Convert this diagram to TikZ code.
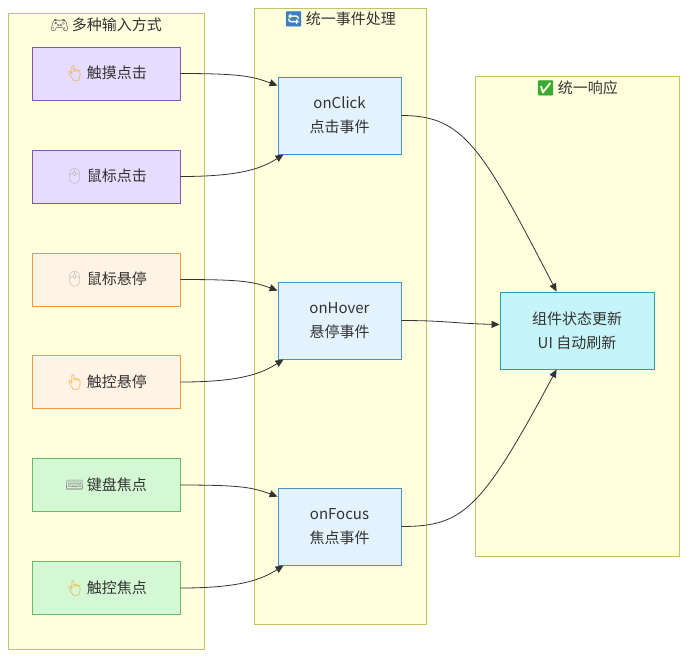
\documentclass[tikz,border=0pt]{standalone}
\usepackage{fontspec}
\setmainfont{Noto Sans CJK SC}
\newfontfamily\emoji{Noto Emoji}
\usetikzlibrary{arrows.meta,calc}
\definecolor{clfill}{HTML}{FFFFDE}
\definecolor{cldraw}{HTML}{C4C466}
\definecolor{pufill}{HTML}{E6DCFF}
\definecolor{pudraw}{HTML}{7E57C2}
\definecolor{orfill}{HTML}{FFF3E5}
\definecolor{ordraw}{HTML}{F29A38}
\definecolor{grfill}{HTML}{D4F8D4}
\definecolor{grdraw}{HTML}{66BB6A}
\definecolor{blfill}{HTML}{E3F2FD}
\definecolor{bldraw}{HTML}{4A90D9}
\definecolor{cyfill}{HTML}{C5F5F8}
\definecolor{cydraw}{HTML}{2A9DB0}
\definecolor{txt}{HTML}{333333}
\definecolor{handc}{HTML}{F0A830}
\definecolor{mousec}{HTML}{B8B8B8}
\definecolor{keyc}{HTML}{909090}
\definecolor{padc}{HTML}{444444}
\definecolor{syncc}{HTML}{3A7FC0}
\definecolor{okc}{HTML}{3BAA35}
\begin{document}
\begin{tikzpicture}[x=1pt,y=-1pt,
  font=\fontsize{15}{24}\selectfont, text=txt,
  cluster/.style={draw=cldraw,fill=clfill,line width=0.9pt},
  inbox/.style={draw=#1draw,fill=#1fill,line width=0.9pt,minimum width=148pt,minimum height=53pt,inner sep=0pt},
  evbox/.style={draw=bldraw,fill=blfill,line width=0.9pt,minimum width=123pt,minimum height=77pt,inner sep=0pt,align=center},
  resbox/.style={draw=cydraw,fill=cyfill,line width=0.9pt,minimum width=154pt,minimum height=77pt,inner sep=0pt,align=center},
  ttl/.style={inner sep=0pt},
  arr/.style={draw=txt,line width=0.8pt,-{Triangle[length=8pt,width=7pt]}}]
\useasboundingbox (0,0) rectangle (695,665);
\fill[white] (0,0) rectangle (695,665);
% clusters
\draw[cluster] (8,13) rectangle (204,649);
\draw[cluster] (254,8) rectangle (426,624);
\draw[cluster] (475,76) rectangle (679,556);
\node[ttl] (t-in) at (106,25) {{\color{padc}\emoji 🎮}\,多种输入方式};
\node[ttl] (t-ev) at (340,19) {{\color{syncc}\emoji 🔄}\,统一事件处理};
\node[ttl] (t-res) at (577,88) {{\color{okc}\emoji ✅}\,统一响应};
% input nodes
\node[inbox=pu] (touchclick) at (106,73.5) {{\color{handc}\emoji 👆}\,触摸点击};
\node[inbox=pu] (mouseclick) at (106,176.5) {{\color{mousec}\emoji 🖱}\,鼠标点击};
\node[inbox=or] (mousehover) at (106,279.5) {{\color{mousec}\emoji 🖱}\,鼠标悬停};
\node[inbox=or] (touchhover) at (106,382) {{\color{handc}\emoji 👆}\,触控悬停};
\node[inbox=gr] (keyfocus) at (106,485) {{\color{keyc}\emoji ⌨}\,键盘焦点};
\node[inbox=gr] (touchfocus) at (106,588) {{\color{handc}\emoji 👆}\,触控焦点};
% event nodes
\node[evbox] (onclick) at (339.5,115.5) {onClick\\点击事件};
\node[evbox] (onhover) at (339.5,320.5) {onHover\\悬停事件};
\node[evbox] (onfocus) at (339.5,526.5) {onFocus\\焦点事件};
% result
\node[resbox] (update) at (577,330.5) {组件状态更新\\UI 自动刷新};
% edges
\draw[arr] (touchclick.east) .. controls +(62,0) and +(-25,-9) .. ($(onclick.north west)+(0,9)$);
\draw[arr] (mouseclick.east) .. controls +(60,0) and +(-22,14) .. ($(onclick.south west)+(6,0)$);
\draw[arr] (mousehover.east) .. controls +(62,0) and +(-25,-9) .. ($(onhover.north west)+(0,9)$);
\draw[arr] (touchhover.east) .. controls +(60,0) and +(-22,14) .. ($(onhover.south west)+(6,0)$);
\draw[arr] (keyfocus.east) .. controls +(62,0) and +(-25,-9) .. ($(onfocus.north west)+(0,9)$);
\draw[arr] (touchfocus.east) .. controls +(60,0) and +(-22,14) .. ($(onfocus.south west)+(6,0)$);
\draw[arr] (onclick.east) .. controls +(62,0) and +(-75,-145) .. ($(update.north west)+(57,0)$);
\draw[arr] (onhover.east) .. controls +(45,0) and +(-45,-1) .. ($(update.west)+(0,-6)$);
\draw[arr] (onfocus.east) .. controls +(62,0) and +(-75,140) .. ($(update.south west)+(57,0)$);
\end{tikzpicture}
\end{document}
